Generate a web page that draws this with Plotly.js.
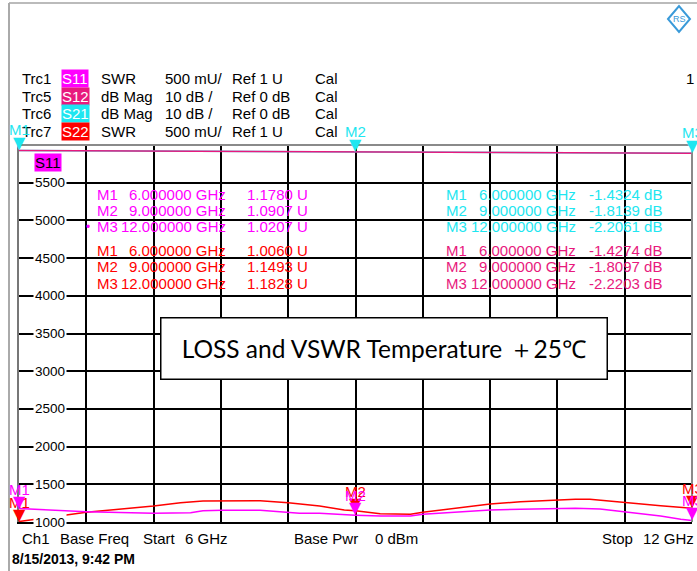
<!DOCTYPE html>
<html><head><meta charset="utf-8">
<script src="https://cdn.plot.ly/plotly-3.0.1.min.js"></script>
<style>html,body{margin:0;padding:0;background:#fff}#chart{width:697px;height:571px}</style>
</head><body><div id="chart"></div>
<script>
// ---------------- data ----------------
const freqS11 = [6.0, 6.37, 6.6, 7.2, 7.44, 7.53, 7.64, 7.81, 8.15, 8.4, 8.5, 8.68, 8.82, 9.0, 9.22, 9.49, 9.6, 9.93, 10.2, 10.47, 10.64, 10.96, 11.18, 11.4, 11.72, 11.9, 12.0];
const s11Swr  = [1178, 1150, 1137, 1115, 1115, 1123, 1150, 1155, 1155, 1129, 1115, 1115, 1102, 1091, 1080, 1080, 1102, 1129, 1159, 1169, 1173, 1182, 1173, 1137, 1080, 1036, 1021];
const freqS22 = [6.0, 6.6, 7.2, 7.44, 7.64, 7.81, 8.15, 8.4, 8.68, 8.9, 9.0, 9.22, 9.49, 9.6, 9.93, 10.2, 10.47, 10.64, 10.96, 11.09, 11.4, 11.72, 12.0];
const s22Swr  = [1006, 1129, 1212, 1256, 1279, 1283, 1283, 1256, 1212, 1159, 1149, 1110, 1102, 1129, 1190, 1239, 1269, 1283, 1301, 1301, 1256, 1216, 1183];
const freqDb  = [6.0, 6.6, 7.2, 7.8, 8.4, 9.0, 9.6, 10.2, 10.8, 11.4, 12.0];
const s21Db   = [-1.43, -1.50, -1.57, -1.65, -1.74, -1.81, -1.90, -1.98, -2.06, -2.13, -2.21];
const s12Db   = [-1.43, -1.49, -1.56, -1.64, -1.73, -1.81, -1.89, -1.97, -2.05, -2.14, -2.22];

const markerNames = ['M1', 'M2', 'M3'];
const markerFreqs = [6, 9, 12];
const s11Markers = [1178.0, 1090.7, 1020.7];   // mU
const s22Markers = [1006.0, 1149.3, 1182.8];   // mU
const s21Markers = [-1.4324, -1.8139, -2.2061]; // dB
const s12Markers = [-1.4274, -1.8097, -2.2203]; // dB

const yTickVals = [1000, 1500, 2000, 2500, 3000, 3500, 4000, 4500, 5000, 5500];

const traceNames  = ['Trc1', 'Trc5', 'Trc6', 'Trc7'];
const traceParams = ['S11', 'S12', 'S21', 'S22'];
const traceFormats = ['SWR', 'dB Mag', 'dB Mag', 'SWR'];
const traceScales = ['500 mU/', '10 dB /', '10 dB /', '500 mU/'];
const traceRefs   = ['Ref 1 U', 'Ref 0 dB', 'Ref 0 dB', 'Ref 1 U'];

const titleText = 'LOSS and VSWR Temperature \uFF0B25\u2103';
const dateText = '8/15/2013, 9:42 PM';

// ---------------- styling ----------------
const C_S11 = '#FF00FF', C_S12 = '#E8197D', C_S21 = '#1EE6F0', C_S22 = '#FF0000';
const paramColors = [C_S11, C_S12, C_S21, C_S22];
const FONT = 'Liberation Sans, Arial, sans-serif';
const L = 19, T = 145, W = 673, H = 377;
const px = x => (x - L) / W;
const py = y => (T + H - y) / H;

const ann = [];
function txt(x, y, text, color, size, opts) {
  ann.push(Object.assign({xref: 'paper', yref: 'paper', x: px(x), y: py(y), text: text,
    showarrow: false, xanchor: 'left', yanchor: 'middle',
    font: {family: FONT, size: size || 15, color: color || '#000'}}, opts || {}));
}

// header rows
const rowY = [79, 96.5, 114, 131];
for (let i = 0; i < 4; i++) {
  txt(20, rowY[i], traceNames[i]);
  txt(75, rowY[i], traceParams[i], '#fff', 15, {xanchor: 'center', bgcolor: paramColors[i], borderpad: 0});
  txt(99, rowY[i], traceFormats[i]);
  txt(163, rowY[i], traceScales[i]);
  txt(230, rowY[i], traceRefs[i]);
  txt(313, rowY[i], 'Cal');
}
txt(684, 79, '1');

// marker tables
const tableRows = [194, 210, 226.5];
const tableRows2 = [250, 266.5, 283];
for (let i = 0; i < 3; i++) {
  const fs = markerFreqs[i].toFixed(6) + ' GHz';
  txt(95, tableRows[i], markerNames[i], C_S11);
  txt(228, tableRows[i], fs, C_S11, 15, {xanchor: 'right'});
  txt(245, tableRows[i], (s11Markers[i] / 1000).toFixed(4) + ' U', C_S11);
  txt(95, tableRows2[i], markerNames[i], C_S22);
  txt(228, tableRows2[i], fs, C_S22, 15, {xanchor: 'right'});
  txt(245, tableRows2[i], (s22Markers[i] / 1000).toFixed(4) + ' U', C_S22);
  txt(444, tableRows[i], markerNames[i], C_S21);
  txt(578, tableRows[i], fs, C_S21, 15, {xanchor: 'right'});
  txt(587, tableRows[i], s21Markers[i].toFixed(4) + ' dB', C_S21);
  txt(444, tableRows2[i], markerNames[i], C_S12);
  txt(578, tableRows2[i], fs, C_S12, 15, {xanchor: 'right'});
  txt(587, tableRows2[i], s12Markers[i].toFixed(4) + ' dB', C_S12);
}
txt(88, 226.5, '\u2022', C_S11, 12, {xanchor: 'center'});

// S11 tag in plot
txt(48, 162, 'S11', '#000', 15, {xanchor: 'center', bgcolor: C_S11, borderpad: 0});

// y tick labels (white background knocks out grid line)
yTickVals.forEach(v => ann.push({xref: 'paper', yref: 'y', x: px(50), y: v, text: String(v),
  showarrow: false, xanchor: 'center', yanchor: 'middle', bgcolor: '#fff', borderpad: 1,
  font: {family: FONT, size: 13.5, color: '#000'}}));

// bottom line
txt(20, 538, 'Ch1');
txt(58, 538, 'Base Freq');
txt(141, 538, 'Start');
txt(183, 538, '6 GHz');
txt(292, 538, 'Base Pwr');
txt(373, 538, '0 dBm');
txt(600, 538, 'Stop');
txt(641, 538, '12 GHz');
txt(10, 559, '<b>' + dateText + '</b>', '#000', 14);

// title box
ann.push({xref: 'paper', yref: 'paper', x: px(384), y: py(348), text: titleText, showarrow: false,
  xanchor: 'center', yanchor: 'middle', width: 443, height: 58, bgcolor: '#fff',
  bordercolor: '#000', borderwidth: 1.5, borderpad: 1,
  font: {family: 'Lato, Noto Sans, sans-serif', size: 24.5, color: '#000'}});

// logo text
txt(679, 19, 'RS', '#3A9AD9', 9, {xanchor: 'center'});

// marker triangles and labels
const TRI = '\u25BC';
function mark(f, v, yref, color, label, labShift) {
  ann.push({xref: 'x', yref: yref, x: f, y: v, text: TRI, showarrow: false, xanchor: 'center', yanchor: 'bottom',
    yshift: -4, font: {family: 'DejaVu Sans', size: 16, color: color}});
  if (label) ann.push({xref: 'x', yref: yref, x: f, y: v, text: label, showarrow: false, xanchor: 'center', yanchor: 'bottom',
    yshift: labShift, font: {family: FONT, size: 15, color: color}});
}
for (let i = 0; i < 3; i++) {
  mark(markerFreqs[i], s22Markers[i], 'y', C_S22, markerNames[i], 9);
}
for (let i = 0; i < 3; i++) {
  mark(markerFreqs[i], s11Markers[i], 'y', C_S11, markerNames[i], 9);
}
for (let i = 0; i < 3; i++) {
  mark(markerFreqs[i], s21Markers[i], 'y2', C_S21, markerNames[i], 10);
}

const shapes = [
  // outer screen frame
  {type: 'line', xref: 'paper', yref: 'paper', x0: px(9), x1: px(697), y0: py(3), y1: py(3), line: {color: '#BBBBBB', width: 2}},
  {type: 'line', xref: 'paper', yref: 'paper', x0: px(9), x1: px(9), y0: py(3), y1: py(571), line: {color: '#AAAAAA', width: 2}},
  // plot frame top / right
  {type: 'line', xref: 'paper', yref: 'paper', x0: 0, x1: 1, y0: 1, y1: 1, line: {color: '#8A8A8A', width: 2}},
  {type: 'line', xref: 'paper', yref: 'paper', x0: 1, x1: 1, y0: 0, y1: 1, line: {color: '#8A8A8A', width: 2}},
  // logo diamond
  {type: 'path', xref: 'paper', yref: 'paper',
   path: `M ${px(668)} ${py(19)} L ${px(679)} ${py(6)} L ${px(690)} ${py(19)} L ${px(679)} ${py(32)} Z`,
   line: {color: '#3A9AD9', width: 2}}
];

const traces = [
  {x: freqDb, y: s21Db, yaxis: 'y2', mode: 'lines', line: {color: C_S21, width: 1.5}, hoverinfo: 'skip'},
  {x: freqDb, y: s12Db, yaxis: 'y2', mode: 'lines', line: {color: C_S12, width: 1.5}, hoverinfo: 'skip'},
  {x: freqS22, y: s22Swr, mode: 'lines', line: {color: C_S22, width: 1.5}, hoverinfo: 'skip'},
  {x: freqS11, y: s11Swr, mode: 'lines', line: {color: C_S11, width: 1.5}, hoverinfo: 'skip'}
];

const layout = {
  width: 697, height: 571,
  margin: {l: L, r: 697 - L - W, t: T, b: 571 - T - H, pad: 0},
  paper_bgcolor: '#fff', plot_bgcolor: '#fff',
  showlegend: false,
  xaxis: {range: [6, 12], tick0: 6, dtick: 0.6, showgrid: true, gridcolor: '#000', gridwidth: 2,
    showticklabels: false, ticks: '', zeroline: false, showline: true, linecolor: '#000', linewidth: 2},
  yaxis: {range: [1000, 6000], tick0: 1000, dtick: 500, showgrid: true, gridcolor: '#000', gridwidth: 2,
    showticklabels: false, ticks: '', zeroline: false, showline: true, linecolor: '#777', linewidth: 2},
  yaxis2: {range: [-100, 0], overlaying: 'y', visible: false},
  annotations: ann,
  shapes: shapes
};

Plotly.newPlot('chart', traces, layout, {displayModeBar: false, staticPlot: true});
</script>
</body></html>
